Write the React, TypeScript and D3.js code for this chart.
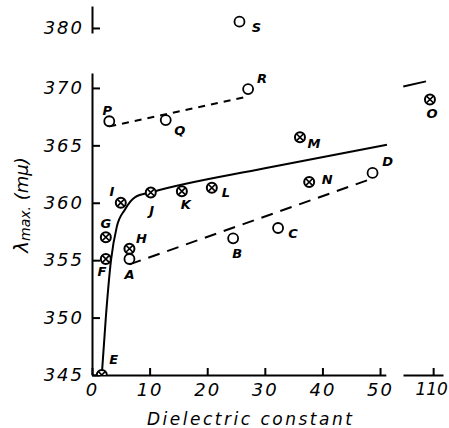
import React, { useEffect, useRef } from "react";
import * as d3 from "d3";

const WIDTH = 449;
const HEIGHT = 428;
const FONT = "'DejaVu Sans', sans-serif";

// open circles (main panel)
const openPoints = [
  { name: "A", x: 6.5, y: 355.1 },
  { name: "B", x: 24.5, y: 356.9 },
  { name: "C", x: 32.3, y: 357.8 },
  { name: "D", x: 48.7, y: 362.6 },
  { name: "P", x: 3.0, y: 367.1 },
  { name: "Q", x: 12.8, y: 367.2 },
  { name: "R", x: 27.1, y: 369.9 },
];

// open circle on the broken top part of the y axis
const topPoints = [{ name: "S", x: 25.6, y: 380.55 }];

// crossed circles (main panel)
const crossPoints = [
  { name: "E", x: 1.7, y: 345.0 },
  { name: "F", x: 2.4, y: 355.1 },
  { name: "G", x: 2.4, y: 357.0 },
  { name: "H", x: 6.5, y: 356.0 },
  { name: "I", x: 5.0, y: 360.0 },
  { name: "J", x: 10.2, y: 360.9 },
  { name: "K", x: 15.6, y: 361.0 },
  { name: "L", x: 20.8, y: 361.3 },
  { name: "M", x: 36.1, y: 365.7 },
  { name: "N", x: 37.7, y: 361.8 },
];

// crossed circle on the broken far part of the x axis
const farPoints = [{ name: "O", x: 109.45, y: 369.0 }];

// solid curve
const solidCurve: [number, number][] = [
  [1.7, 345.0],
  [2.4, 350.0],
  [3.3, 355.0],
  [4.3, 357.9],
  [5.7, 359.4],
  [7.5, 360.5],
  [10.2, 360.9],
  [30, 363.0],
  [51.2, 365.05],
];
const solidFar: [number, number][] = [
  [104.85, 370.13],
  [108.76, 370.57],
];

// dashed lines
const upperDash: [number, number][] = [
  [3.0, 366.65],
  [27.1, 369.25],
];
const lowerDash: [number, number][] = [
  [6.5, 354.63],
  [48.7, 362.12],
];

const xTicks = [0, 10, 20, 30, 40, 50];
const xFarTicks = [110];
const yTicks = [345, 350, 355, 360, 365, 370];
const yTopTicks = [380];

const X_TITLE = "Dielectric constant";

// label offsets in px from each point
const labelOffset: Record<string, [number, number]> = {
  A: [0, 15], B: [4, 15], C: [15, 5], D: [15, -11], E: [12, -16],
  F: [-4, 12], G: [0, -14], H: [12, -10], I: [-9, -11], J: [1, 18],
  K: [4, 13], L: [14, 5], M: [14, 6], N: [18, -3], O: [2, 14],
  P: [-2, -11], Q: [14, 10], R: [14, -11], S: [17, 6],
};

function App() {
  const ref = useRef<SVGSVGElement>(null);

  useEffect(() => {
    if (!ref.current) return;
    const svg = d3.select(ref.current);
    svg.selectAll("*").remove();

    const x = d3.scaleLinear().domain([0, 51]).range([92, 385.8]);
    const xFar = d3.scaleLinear().domain([104.8, 111.7]).range([403, 443]);
    const y = d3.scaleLinear().domain([345, 371.3]).range([375, 73]);
    const yTop = d3.scaleLinear().domain([379.56, 381.92]).range([33, 6]);

    svg
      .append("defs")
      .append("clipPath")
      .attr("id", "plotClip")
      .append("rect")
      .attr("x", 0)
      .attr("y", 0)
      .attr("width", WIDTH)
      .attr("height", y(345));

    const styleAxis = (spacing: number) => (g: any) => {
      g.attr("font-family", FONT).attr("font-size", 18).attr("font-style", "italic");
      g.select(".domain").attr("stroke", "#000").attr("stroke-width", 2);
      g.selectAll(".tick line").attr("stroke", "#000").attr("stroke-width", 2);
      g.selectAll(".tick text").attr("fill", "#000").attr("letter-spacing", spacing);
    };

    svg
      .append("g")
      .attr("transform", `translate(0 ${y(345)})`)
      .call(d3.axisBottom(x).tickValues(xTicks).tickSize(-7).tickSizeOuter(0).tickPadding(8).tickFormat(d3.format("d")))
      .call(styleAxis(2));

    const farAxis = svg
      .append("g")
      .attr("transform", `translate(0 ${y(345)})`)
      .call(d3.axisBottom(xFar).tickValues(xFarTicks).tickSize(-7).tickSizeOuter(0).tickPadding(8).tickFormat(d3.format("d")))
      .call(styleAxis(0));
    farAxis.selectAll(".tick text").attr("font-size", 17).attr("dx", -2);

    svg
      .append("g")
      .attr("transform", `translate(${x(0)} 0)`)
      .call(d3.axisLeft(y).tickValues(yTicks).tickSize(-8).tickSizeOuter(0).tickPadding(8).tickFormat(d3.format("d")))
      .call(styleAxis(2));

    svg
      .append("g")
      .attr("transform", `translate(${x(0)} 0)`)
      .call(d3.axisLeft(yTop).tickValues(yTopTicks).tickSize(-8).tickSizeOuter(0).tickPadding(8).tickFormat(d3.format("d")))
      .call(styleAxis(2));

    // axis titles
    svg
      .append("text")
      .attr("x", 147)
      .attr("y", 425)
      .attr("font-family", FONT)
      .attr("font-style", "italic")
      .attr("font-size", 17)
      .attr("letter-spacing", 2.5)
      .text(X_TITLE);

    const yTitle = svg
      .append("text")
      .attr("transform", "translate(28 205) rotate(-90)")
      .attr("text-anchor", "middle")
      .attr("font-family", FONT)
      .attr("font-style", "italic");
    yTitle.append("tspan").attr("font-size", 20).text("λ");
    yTitle.append("tspan").attr("font-size", 14).attr("dy", 2).text("max.");
    yTitle.append("tspan").attr("font-size", 18).attr("dy", -2).text(" (mμ)");

    // lines
    const line = d3
      .line<[number, number]>()
      .x((d) => x(d[0]))
      .y((d) => y(d[1]));

    svg
      .append("path")
      .attr("d", line.curve(d3.curveMonotoneX)(solidCurve))
      .attr("fill", "none")
      .attr("stroke", "#000")
      .attr("stroke-width", 2);

    svg
      .append("path")
      .attr(
        "d",
        d3
          .line<[number, number]>()
          .x((d) => xFar(d[0]))
          .y((d) => y(d[1]))(solidFar)
      )
      .attr("fill", "none")
      .attr("stroke", "#000")
      .attr("stroke-width", 2);

    const straight = d3
      .line<[number, number]>()
      .x((d) => x(d[0]))
      .y((d) => y(d[1]));

    svg
      .append("path")
      .attr("d", straight(upperDash))
      .attr("fill", "none")
      .attr("stroke", "#000")
      .attr("stroke-width", 2)
      .attr("stroke-dasharray", "7 6");

    svg
      .append("path")
      .attr("d", straight(lowerDash))
      .attr("fill", "none")
      .attr("stroke", "#000")
      .attr("stroke-width", 2)
      .attr("stroke-dasharray", "12 8");

    // markers
    const R = 5;
    const drawOpen = (pts: typeof openPoints, sx: any, sy: any) => {
      svg
        .append("g")
        .selectAll("circle")
        .data(pts)
        .enter()
        .append("circle")
        .attr("cx", (d) => sx(d.x))
        .attr("cy", (d) => sy(d.y))
        .attr("r", R)
        .attr("fill", "#fff")
        .attr("stroke", "#000")
        .attr("stroke-width", 1.8);
    };

    const drawCross = (pts: typeof crossPoints, sx: any, sy: any) => {
      const g = svg
        .append("g")
        .attr("clip-path", "url(#plotClip)")
        .selectAll("g")
        .data(pts)
        .enter()
        .append("g")
        .attr("transform", (d) => `translate(${sx(d.x)} ${sy(d.y)})`);
      g.append("circle")
        .attr("r", R)
        .attr("fill", "#fff")
        .attr("stroke", "#000")
        .attr("stroke-width", 2);
      const k = R * 0.72;
      g.append("path")
        .attr("d", `M${-k},${-k}L${k},${k}M${-k},${k}L${k},${-k}`)
        .attr("stroke", "#000")
        .attr("stroke-width", 1.6);
    };

    drawOpen(openPoints, x, y);
    drawOpen(topPoints, x, yTop);
    drawCross(crossPoints, x, y);
    drawCross(farPoints, xFar, y);

    const drawLabels = (pts: { name: string; x: number; y: number }[], sx: any, sy: any) => {
      svg
        .append("g")
        .selectAll("text")
        .data(pts)
        .enter()
        .append("text")
        .attr("x", (d) => sx(d.x) + labelOffset[d.name][0])
        .attr("y", (d) => sy(d.y) + labelOffset[d.name][1])
        .attr("text-anchor", "middle")
        .attr("dominant-baseline", "central")
        .attr("font-family", FONT)
        .attr("font-style", "italic")
        .attr("font-weight", "bold")
        .attr("font-size", 13)
        .text((d) => d.name);
    };

    drawLabels(openPoints, x, y);
    drawLabels(topPoints, x, yTop);
    drawLabels(crossPoints, x, y);
    drawLabels(farPoints, xFar, y);
  }, []);

  return (
    <svg
      ref={ref}
      width={WIDTH}
      height={HEIGHT}
      style={{ position: "absolute", left: 0, top: 0, background: "#fff" }}
    />
  );
}

export default App;
